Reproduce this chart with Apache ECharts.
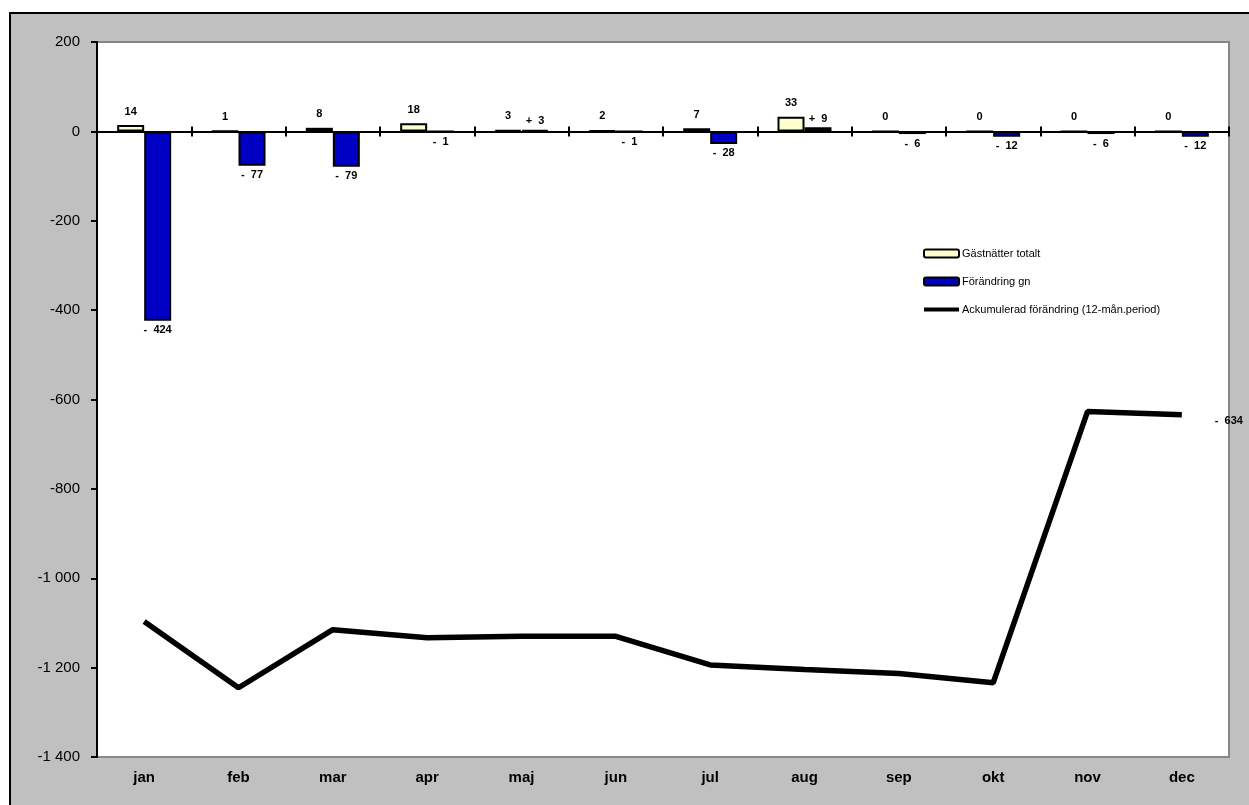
<!DOCTYPE html>
<html>
<head>
<meta charset="utf-8">
<script src="https://cdn.jsdelivr.net/npm/echarts@6/dist/echarts.min.js"></script>
<style>
  html, body { margin: 0; padding: 0; background: #ffffff; overflow: hidden; }
  #outer { position: absolute; left: 9px; top: 12px; width: 1300px; height: 900px;
           background: #c0c0c0; border: 2px solid #000; box-sizing: border-box; }
  #chart { position: absolute; left: 0; top: 0; width: 1249px; height: 805px; }
</style>
</head>
<body>
<div id="outer"></div>
<div id="chart"></div>
<script>
const months = ['jan', 'feb', 'mar', 'apr', 'maj', 'jun', 'jul', 'aug', 'sep', 'okt', 'nov', 'dec'];
const guestNights = [14, 1, 8, 18, 3, 2, 7, 33, 0, 0, 0, 0];
const changeGn = [-424, -77, -79, -1, 3, -1, -28, 9, -6, -12, -6, -12];
const cumulative = [-1097, -1245, -1115, -1133, -1130, -1130, -1194, -1204, -1213, -1234, -627, -634];
const seriesNames = ['Gästnätter totalt', 'Förändring gn', 'Ackumulerad förändring (12-mån.period)'];

const FONT = '"Liberation Sans", Arial, sans-serif';

function signed(v) {
  if (v < 0) return '-  ' + Math.abs(v);
  if (v > 0) return '+  ' + v;
  return '0';
}
function thousands(v) {
  const s = Math.abs(v).toString().replace(/\B(?=(\d{3})+(?!\d))/g, ' ');
  return (v < 0 ? '-' : '') + s;
}

const changeData = changeGn.map(v => ({
  value: v,
  label: { position: v < 0 ? 'bottom' : 'top', distance: v < 0 ? 4 : 3 }
}));

const chart = echarts.init(document.getElementById('chart'), null, { renderer: 'canvas' });
chart.setOption({
  backgroundColor: 'transparent',
  animation: false,
  textStyle: { fontFamily: FONT },
  grid: {
    left: 97, top: 42, width: 1132, height: 715,
    show: true, backgroundColor: '#ffffff', borderColor: '#878787', borderWidth: 2,
    containLabel: false
  },
  legend: {
    orient: 'vertical',
    left: 918, top: 243,
    itemWidth: 35, itemHeight: 8, itemGap: 17,
    data: [
      { name: seriesNames[0] },
      { name: seriesNames[1] },
      { name: seriesNames[2],
        icon: 'path://M0,0 L0.01,0 L0,0.01 Z M0,2 L35,2 L35,6 L0,6 Z M0,8 L0.01,8 L0,7.99 Z',
        itemStyle: { color: '#000', borderWidth: 0 } }
    ],
    textStyle: { fontSize: 11, color: '#000', fontFamily: FONT, padding: [0, 0, 0, -2] }
  },
  xAxis: [
    {
      type: 'category', data: months, position: 'bottom',
      axisLine: { show: false, onZero: false },
      axisTick: { show: false },
      axisLabel: { fontSize: 15, fontWeight: 'bold', color: '#000', margin: 13, fontFamily: FONT },
      splitLine: { show: false }
    },
    {
      type: 'category', data: months, position: 'bottom',
      axisLine: { show: true, onZero: true, onZeroAxisIndex: 0, lineStyle: { color: '#000', width: 2 } },
      axisTick: { show: true, length: 5, lineStyle: { color: '#000', width: 2 } },
      axisLabel: { show: false },
      splitLine: { show: false }
    },
    {
      type: 'category', data: months, position: 'top',
      axisLine: { show: true, onZero: true, onZeroAxisIndex: 0, lineStyle: { color: '#000', width: 2 } },
      axisTick: { show: true, length: 5, lineStyle: { color: '#000', width: 2 } },
      axisLabel: { show: false },
      splitLine: { show: false }
    }
  ],
  yAxis: {
    type: 'value', min: -1400, max: 200, interval: 200,
    axisLine: { show: true, onZero: false, lineStyle: { color: '#000', width: 2 } },
    axisTick: { show: true, length: 6, lineStyle: { color: '#000', width: 2 } },
    axisLabel: { fontSize: 15, color: '#000', margin: 17, formatter: thousands, fontFamily: FONT },
    splitLine: { show: false }
  },
  series: [
    {
      name: seriesNames[0], type: 'bar', xAxisIndex: 0, data: guestNights,
      barWidth: 27, barGap: '0%',
      itemStyle: { color: '#ffffcc', borderColor: '#000', borderWidth: 2 },
      label: { show: true, position: 'top', distance: 8, fontSize: 11, fontWeight: 'bold', color: '#000', fontFamily: FONT },
      z: 2
    },
    {
      name: seriesNames[1], type: 'bar', xAxisIndex: 0, data: changeData,
      barWidth: 27, barGap: '0%',
      itemStyle: { color: '#0000c4', borderColor: '#000', borderWidth: 2 },
      label: { show: true, fontSize: 11, fontWeight: 'bold', color: '#000', fontFamily: FONT,
               formatter: p => signed(p.value) },
      z: 2
    },
    {
      name: seriesNames[2], type: 'line', xAxisIndex: 0, data: cumulative,
      symbol: 'none', showSymbol: false,
      lineStyle: { color: '#000', width: 5.5 },
      itemStyle: { color: '#000' },
      endLabel: {
        show: true, distance: 33, offset: [0, 6],
        formatter: p => signed(p.value),
        fontSize: 11, fontWeight: 'bold', color: '#000', fontFamily: FONT
      },
      z: 4
    }
  ]
});
</script>
</body>
</html>
